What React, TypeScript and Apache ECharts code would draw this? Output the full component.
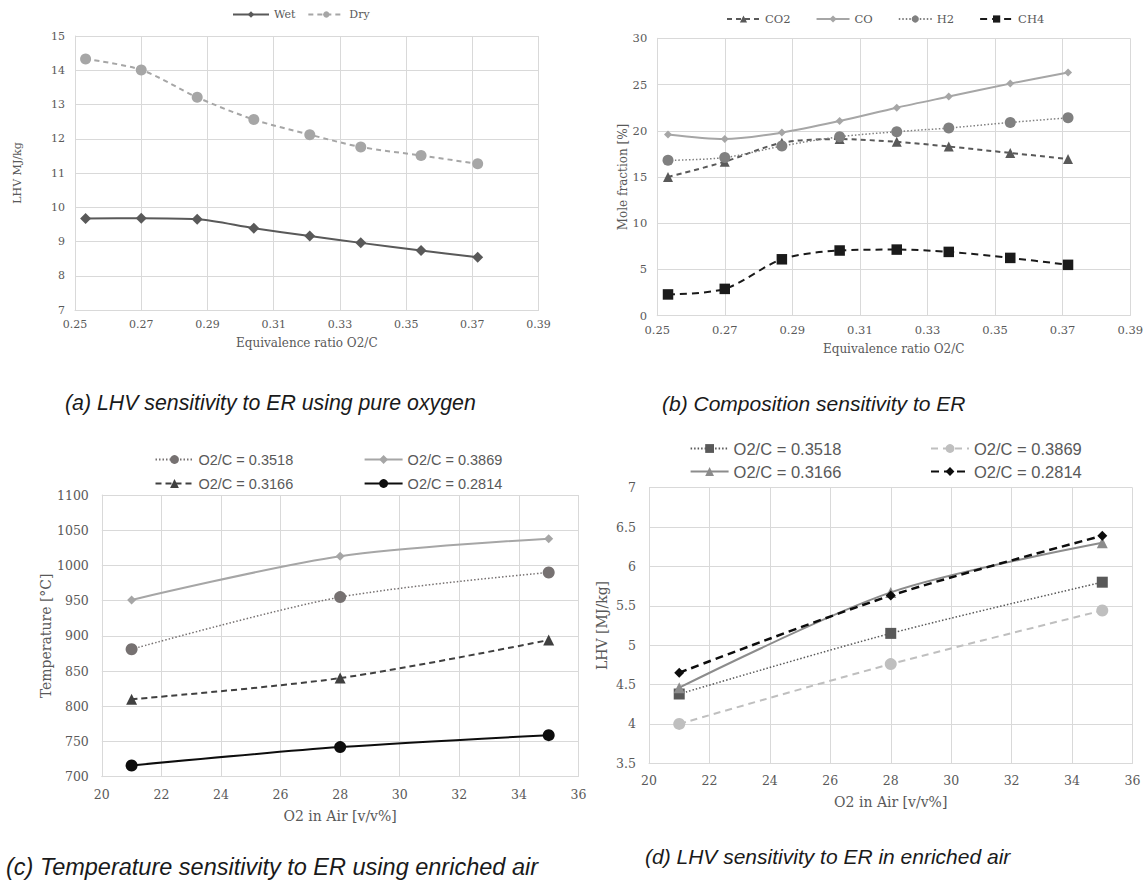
import React, { useEffect, useRef } from "react";
import * as echarts from "echarts";

// ---------- data ----------
const erRatio = [0.2532, 0.27, 0.2869, 0.304, 0.3209, 0.3363, 0.3545, 0.3716];
const lhvWet = [9.67, 9.68, 9.65, 9.39, 9.16, 8.96, 8.74, 8.54];
const lhvDry = [14.33, 14.01, 13.21, 12.56, 12.12, 11.76, 11.51, 11.27];

const co2 = [15.0, 16.65, 18.7, 19.1, 18.8, 18.3, 17.6, 16.95];
const co = [19.6, 19.1, 19.8, 21.05, 22.5, 23.7, 25.1, 26.3];
const h2 = [16.8, 17.1, 18.35, 19.35, 19.9, 20.3, 20.9, 21.4];
const ch4 = [2.3, 2.9, 6.1, 7.05, 7.15, 6.9, 6.25, 5.5];

const o2InAir = [21, 28, 35];
const ratioNames = ["O2/C = 0.3518", "O2/C = 0.3869", "O2/C = 0.3166", "O2/C = 0.2814"];
const temp3518 = [881, 955, 990];
const temp3869 = [951, 1013, 1038];
const temp3166 = [810, 840, 894];
const temp2814 = [716, 742, 759];

const lhv3518 = [4.38, 5.15, 5.8];
const lhv3869 = [4.0, 4.76, 5.44];
const lhv3166 = [4.46, 5.67, 6.3];
const lhv2814 = [4.65, 5.63, 6.39];

const captions = [
  "(a) LHV sensitivity to ER using pure oxygen",
  "(b) Composition sensitivity to ER",
  "(c) Temperature sensitivity to ER using enriched air",
  "(d) LHV sensitivity to ER in enriched air",
];

// ---------- styles ----------
const SERIF = "DejaVu Serif";
const SANS = "Liberation Sans";
const TXT = "#595959";
const GRID = "#d9d9d9";

function pairs(xs: number[], ys: number[]) {
  return xs.map((x, i) => [x, ys[i]]);
}

function line(
  name: string,
  idx: number,
  xs: number[],
  ys: number[],
  color: string,
  type: any,
  width: number,
  symbol: string,
  size: number
) {
  return {
    type: "line",
    name,
    xAxisIndex: idx,
    yAxisIndex: idx,
    data: pairs(xs, ys),
    smooth: 0.3,
    symbol,
    symbolSize: size,
    showSymbol: true,
    lineStyle: { color, type, width },
    itemStyle: { color, borderColor: color, borderWidth: 0 },
    emphasis: { disabled: true },
  };
}

const plain = (v: number) => String(v);

function xAxis(idx: number, min: number, max: number, interval: number, name: string, fs: number, margin: number, nameGap: number, nameFs: number) {
  return {
    type: "value",
    gridIndex: idx,
    min,
    max,
    interval,
    name,
    nameLocation: "middle",
    nameGap,
    nameTextStyle: { fontFamily: SERIF, fontSize: nameFs, color: TXT },
    axisLine: { show: true, lineStyle: { color: GRID, width: 1 } },
    axisTick: { show: false },
    axisLabel: { fontFamily: SERIF, fontSize: fs, color: TXT, margin, formatter: plain },
    splitLine: { show: true, lineStyle: { color: GRID, width: 1 } },
  };
}

function yAxis(idx: number, min: number, max: number, interval: number, name: string, fs: number, margin: number, nameGap: number, nameFs: number) {
  return {
    type: "value",
    gridIndex: idx,
    min,
    max,
    interval,
    name,
    nameLocation: "middle",
    nameGap,
    nameRotate: 90,
    nameTextStyle: { fontFamily: SERIF, fontSize: nameFs, color: TXT },
    axisLine: { show: true, lineStyle: { color: GRID, width: 1 } },
    axisTick: { show: false },
    axisLabel: { fontFamily: SERIF, fontSize: fs, color: TXT, margin, formatter: plain },
    splitLine: { show: true, lineStyle: { color: GRID, width: 1 } },
  };
}

function itemLegend(name: string, left: number, top: number, fs: number, formatter?: (n: string) => string) {
  return {
    data: [name],
    left,
    top,
    padding: 0,
    itemWidth: 38,
    itemHeight: 11,
    itemGap: 0,
    selectedMode: false,
    textStyle: { fontFamily: SANS, fontSize: fs, color: TXT },
    formatter: formatter,
  };
}

const stripD = (n: string) => n.replace(/^d /, "");

export default function App() {
  const ref = useRef<HTMLDivElement>(null);

  useEffect(() => {
    if (!ref.current) return;
    const chart = echarts.init(ref.current, undefined, { renderer: "svg" });

    const capStyle = (x: number, y: number, text: string, fs: number) => ({
      type: "text",
      x,
      y,
      style: {
        text,
        fontFamily: SANS,
        fontStyle: "italic",
        fontSize: fs,
        fill: "#1a1a1a",
        textVerticalAlign: "middle",
      },
    });

    const option: any = {
      animation: false,
      backgroundColor: "#ffffff",
      grid: [
        { left: 75, top: 36, width: 463.6, height: 274 },
        { left: 657.2, top: 38.3, width: 473, height: 277.4 },
        { left: 101.8, top: 495, width: 476.7, height: 281.7 },
        { left: 649, top: 487.7, width: 483.5, height: 275.6 },
      ],
      xAxis: [
        xAxis(0, 0.25, 0.39, 0.02, "Equivalence ratio O2/C", 11, 9, 27, 12),
        xAxis(1, 0.25, 0.39, 0.02, "Equivalence ratio O2/C", 11.5, 8, 27, 12),
        xAxis(2, 20, 36, 2, "O2 in Air [v/v%]", 12.5, 11, 32, 14),
        xAxis(3, 20, 36, 2, "O2 in Air [v/v%]", 12.5, 11, 32, 14),
      ],
      yAxis: [
        yAxis(0, 7, 15, 1, "LHV MJ/kg", 11, 10, 52, 11),
        yAxis(1, 0, 30, 5, "Mole fraction [%]", 11.5, 10, 27, 12),
        yAxis(2, 700, 1100, 50, "Temperature [°C]", 12.5, 13, 45, 14),
        yAxis(3, 3.5, 7, 0.5, "LHV [MJ/kg]", 12.5, 13, 40, 14),
      ],
      legend: [
        {
          data: ["Wet", "Dry"],
          left: 232,
          top: 9,
          padding: 0,
          itemWidth: 36,
          itemHeight: 8,
          itemGap: 12,
          selectedMode: false,
          textStyle: { fontFamily: SERIF, fontSize: 11, color: TXT },
        },
        {
          data: ["CO2", "CO", "H2", "CH4"],
          left: 726,
          top: 13,
          padding: 0,
          itemWidth: 33,
          itemHeight: 9,
          itemGap: 25,
          selectedMode: false,
          textStyle: { fontFamily: SERIF, fontSize: 11.5, color: TXT },
        },
        itemLegend(ratioNames[0], 154.5, 452, 14.5),
        itemLegend(ratioNames[1], 363.6, 452, 14.5),
        itemLegend(ratioNames[2], 154.5, 476, 14.5),
        itemLegend(ratioNames[3], 363.6, 476, 14.5),
        itemLegend("d " + ratioNames[0], 689.6, 440, 16.5, stripD),
        itemLegend("d " + ratioNames[1], 930, 440, 16.5, stripD),
        itemLegend("d " + ratioNames[2], 689.6, 463, 16.5, stripD),
        itemLegend("d " + ratioNames[3], 930, 463, 16.5, stripD),
      ],
      graphic: [
        capStyle(65, 403, captions[0], 21.3),
        capStyle(662, 403, captions[1], 21),
        capStyle(6, 866.7, captions[2], 23.5),
        capStyle(645, 856.7, captions[3], 21),
      ],
      series: [
        line("Wet", 0, erRatio, lhvWet, "#595959", "solid", 2, "diamond", 11),
        line("Dry", 0, erRatio, lhvDry, "#a6a6a6", [5, 4], 2, "circle", 11),

        line("CO2", 1, erRatio, co2, "#595959", [5, 4], 2, "triangle", 10),
        line("CO", 1, erRatio, co, "#a6a6a6", "solid", 2, "diamond", 8),
        line("H2", 1, erRatio, h2, "#808080", [1.5, 2], 1.5, "circle", 11),
        line("CH4", 1, erRatio, ch4, "#1a1a1a", [7, 5], 2, "rect", 10.5),

        line(ratioNames[0], 2, o2InAir, temp3518, "#767171", [1.5, 2], 1.5, "circle", 12),
        line(ratioNames[1], 2, o2InAir, temp3869, "#a6a6a6", "solid", 2, "diamond", 9),
        line(ratioNames[2], 2, o2InAir, temp3166, "#404040", [6, 4], 2, "triangle", 11),
        line(ratioNames[3], 2, o2InAir, temp2814, "#0d0d0d", "solid", 2, "circle", 12),

        line("d " + ratioNames[0], 3, o2InAir, lhv3518, "#595959", [1.5, 2], 1.5, "rect", 11),
        line("d " + ratioNames[1], 3, o2InAir, lhv3869, "#bfbfbf", [7, 5], 2, "circle", 12),
        line("d " + ratioNames[2], 3, o2InAir, lhv3166, "#8c8c8c", "solid", 2, "triangle", 11),
        line("d " + ratioNames[3], 3, o2InAir, lhv2814, "#0d0d0d", [8, 5], 2.5, "diamond", 10),
      ],
    };

    chart.setOption(option);
    return () => chart.dispose();
  }, []);

  return (
    <div
      ref={ref}
      style={{ position: "absolute", left: 0, top: 0, width: 1147, height: 881, background: "#fff" }}
    />
  );
}
